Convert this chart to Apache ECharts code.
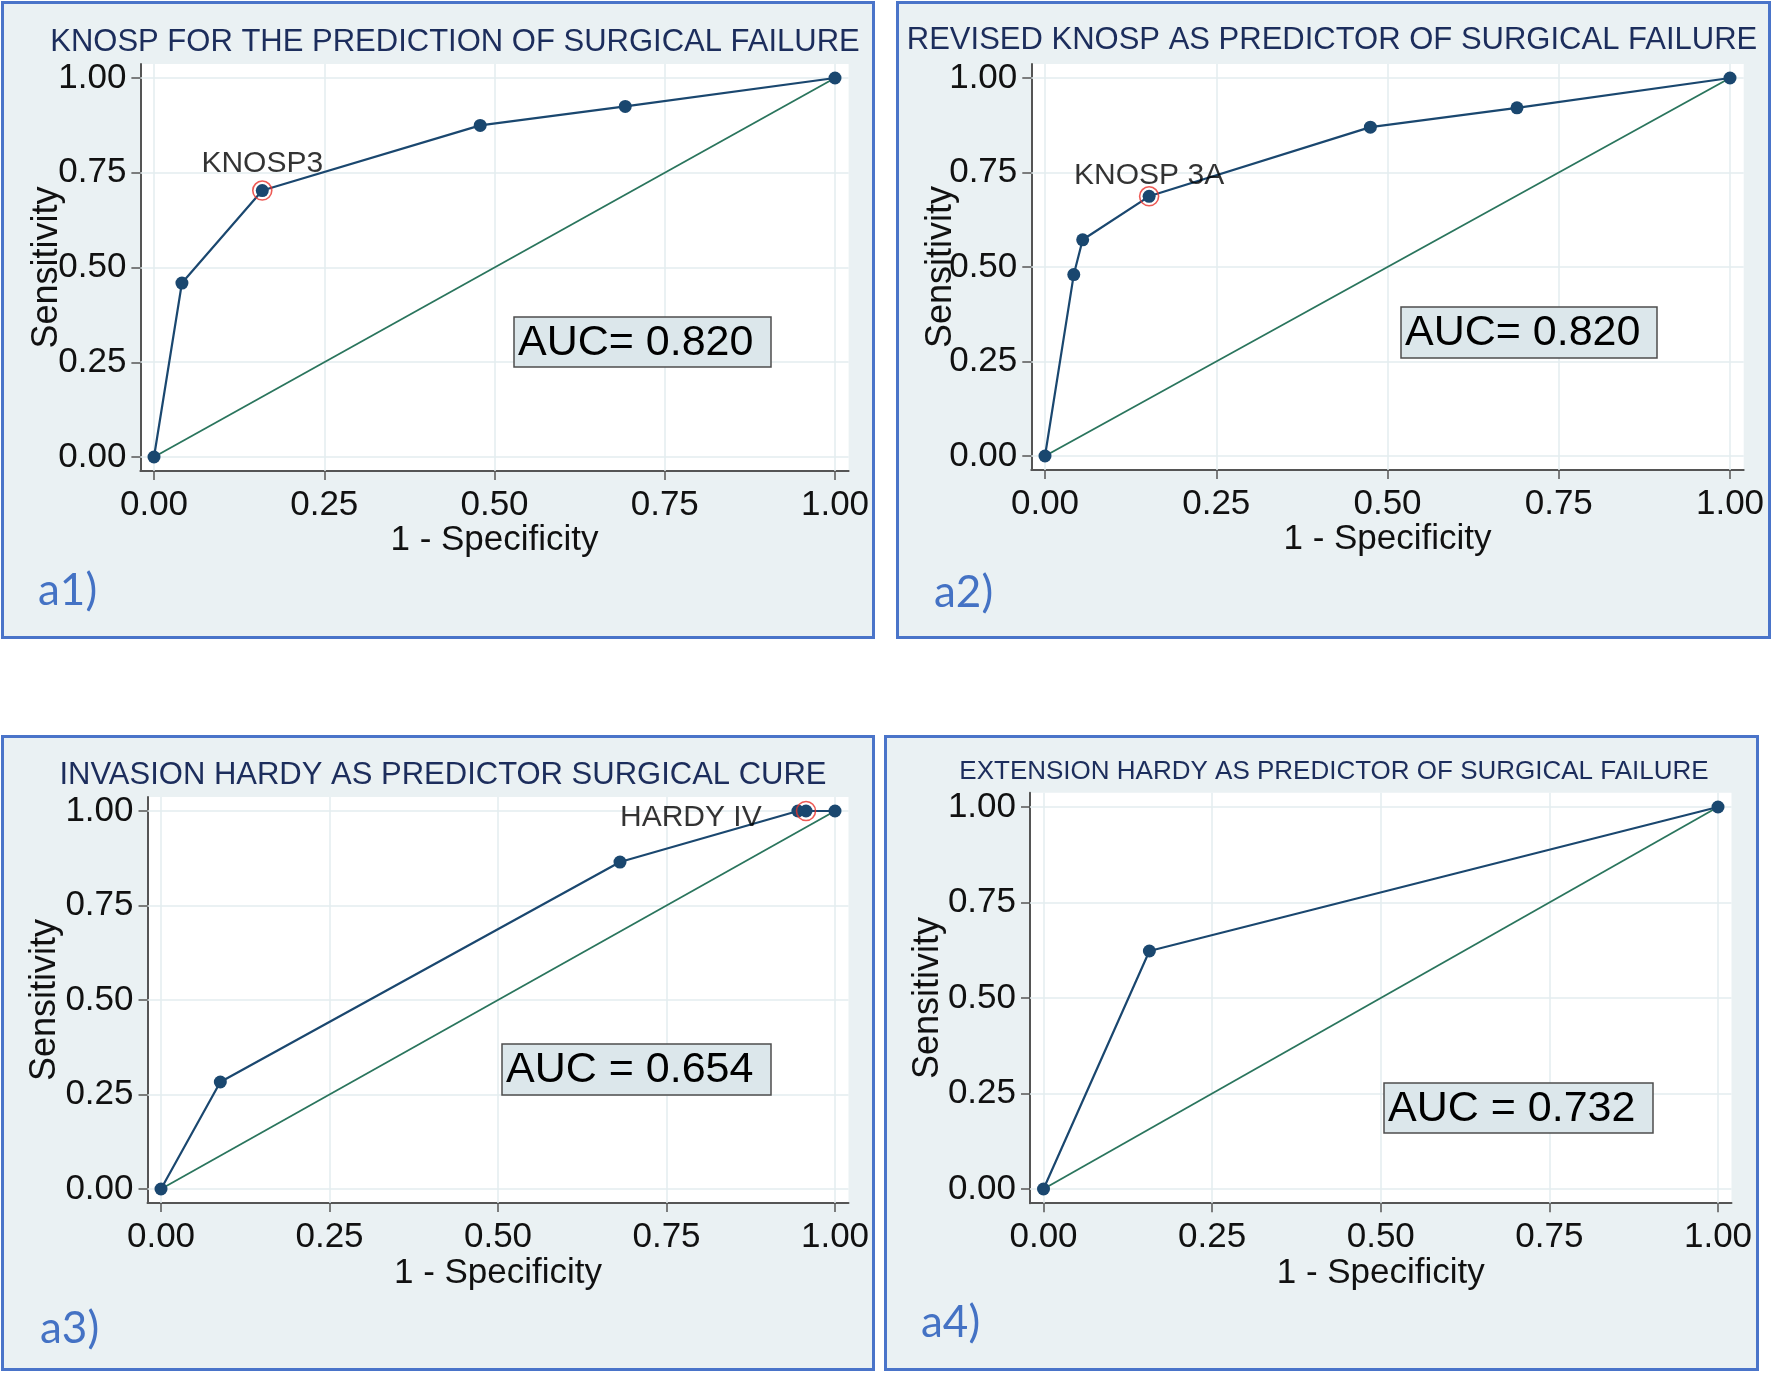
<!DOCTYPE html>
<html>
<head>
<meta charset="utf-8">
<script src="https://cdn.jsdelivr.net/npm/echarts@6/dist/echarts.min.js"></script>
<style>
  html, body { margin: 0; padding: 0; background: #fff; }
  #wrap { position: relative; width: 1772px; height: 1374px; }
  .frame { position: absolute; box-sizing: border-box; border: 3px solid #4a74c9; background: #eaf1f3; }
  #chart { position: absolute; left: 0; top: 0; width: 1772px; height: 1374px; }
</style>
</head>
<body>
<div id="wrap">
  <div class="frame" style="left:1px;top:1px;width:874px;height:638px"></div>
  <div class="frame" style="left:896px;top:1px;width:875px;height:638px"></div>
  <div class="frame" style="left:1px;top:735px;width:874px;height:636px"></div>
  <div class="frame" style="left:884px;top:735px;width:875px;height:636px"></div>
  <div id="chart"></div>
</div>
<script>
// tick values shared by every panel
const xTicks = [0, 0.25, 0.5, 0.75, 1];
const yTicks = [0, 0.25, 0.5, 0.75, 1];

// reference (chance) line
const refFpr = [0, 1];
const refSens = [0, 1];

// ROC points: 1 - specificity / sensitivity
const a1Fpr = [0, 0.041, 0.159, 0.479, 0.692, 1];
const a1Sens = [0, 0.459, 0.703, 0.875, 0.925, 1];
const a2Fpr = [0, 0.042, 0.055, 0.152, 0.475, 0.689, 1];
const a2Sens = [0, 0.480, 0.572, 0.687, 0.870, 0.921, 1];
const a3Fpr = [0, 0.088, 0.681, 0.945, 0.957, 1];
const a3Sens = [0, 0.283, 0.865, 1, 1, 1];
const a4Fpr = [0, 0.157, 1];
const a4Sens = [0, 0.623, 1];

const titles = [
  'KNOSP FOR THE PREDICTION OF SURGICAL FAILURE',
  'REVISED KNOSP AS PREDICTOR OF SURGICAL FAILURE',
  'INVASION HARDY AS PREDICTOR SURGICAL CURE',
  'EXTENSION HARDY AS PREDICTOR OF SURGICAL FAILURE'
];
const aucLabels = ['AUC= 0.820', 'AUC= 0.820', 'AUC = 0.654', 'AUC = 0.732'];
const panelTags = ['a1)', 'a2)', 'a3)', 'a4)'];
const cutLabels = ['KNOSP3', 'KNOSP 3A', 'HARDY IV', null];
const cutIndex = [2, 3, 4, -1];

const fprs = [a1Fpr, a2Fpr, a3Fpr, a4Fpr];
const senss = [a1Sens, a2Sens, a3Sens, a4Sens];

// axis ranges (Stata leaves a little room round 0..1)
const X_MIN = -0.02, X_MAX = 1.02, Y_MIN = -0.037, Y_MAX = 1.037;

// pixel layout of each panel: where 0 and 1 sit on each axis, plus text placement
const layout = [
  { x0: 154, x1: 835, y1: 78, y0: 457, titleX: 455, titleY: 42, titleSize: 31, yGap: 75, xGap: 52,
    box: [514, 317, 257, 50], tag: [38, 591], lPos: 'top', lDist: 2, lOff: [0, 0] },
  { x0: 1045, x1: 1730, y1: 78, y0: 456, titleX: 1332, titleY: 40, titleSize: 31, yGap: 72, xGap: 52,
    box: [1401, 307, 256, 51], tag: [934, 593], lPos: 'top', lDist: -5, lOff: [0, 0] },
  { x0: 161, x1: 835, y1: 811, y0: 1189, titleX: 443, titleY: 775, titleSize: 31, yGap: 84, xGap: 53,
    box: [502, 1044, 269, 51], tag: [40, 1329], lPos: 'left', lDist: 34, lOff: [0, 7] },
  { x0: 1043.5, x1: 1718, y1: 807, y0: 1189, titleX: 1334, titleY: 772, titleSize: 26, yGap: 84, xGap: 53,
    box: [1384, 1083, 269, 50], tag: [921, 1323], lPos: 'top', lDist: 3, lOff: [0, 0] }
];

const FONT = '"Liberation Sans", Arial, sans-serif';
const NAVY = '#1a476f';
const GREEN = '#2a755d';
const AXIS = '#555555';
const AXIS_FS = 35;
const fmt = v => Number(v).toFixed(2);

const grids = [], xAxes = [], yAxes = [], series = [], graphics = [];

layout.forEach((L, i) => {
  const w = L.x1 - L.x0, h = L.y0 - L.y1;
  grids.push({
    left: L.x0 + X_MIN * w,
    top: L.y1 - (Y_MAX - 1) * h,
    width: (X_MAX - X_MIN) * w,
    height: (Y_MAX - Y_MIN) * h,
    show: true, backgroundColor: '#ffffff', borderWidth: 0,
    containLabel: false, outerBoundsMode: 'none'
  });
  xAxes.push({
    type: 'value', gridIndex: i, min: X_MIN, max: X_MAX,
    name: '1 - Specificity', nameLocation: 'middle', nameGap: L.xGap, nameMoveOverlap: false,
    nameTextStyle: { fontSize: AXIS_FS, color: '#111', fontFamily: FONT },
    axisLine: { show: true, onZero: false, lineStyle: { color: AXIS, width: 2 } },
    axisTick: { show: true, length: 9, customValues: xTicks, lineStyle: { color: AXIS, width: 1.5 } },
    axisLabel: { customValues: xTicks, formatter: fmt, fontSize: AXIS_FS, color: '#111', fontFamily: FONT, margin: 17 },
    splitLine: { show: false }
  });
  yAxes.push({
    type: 'value', gridIndex: i, min: Y_MIN, max: Y_MAX,
    name: 'Sensitivity', nameLocation: 'middle', nameGap: L.yGap, nameMoveOverlap: false,
    nameTextStyle: { fontSize: 36, color: '#111', fontFamily: FONT },
    axisLine: { show: true, onZero: false, lineStyle: { color: AXIS, width: 2 } },
    axisTick: { show: true, length: 9, customValues: yTicks, lineStyle: { color: AXIS, width: 1.5 } },
    axisLabel: { customValues: yTicks, formatter: fmt, fontSize: AXIS_FS, color: '#111', fontFamily: FONT, margin: 14 },
    splitLine: { show: false }
  });

  // light grid lines at every tick, kept under the curves
  series.push({
    type: 'line', xAxisIndex: i, yAxisIndex: i, data: [], z: 1,
    markLine: {
      z: 1, silent: true, symbol: 'none', label: { show: false },
      lineStyle: { color: '#e3ecef', width: 1.5, type: 'solid' },
      data: xTicks.map(v => ({ xAxis: v })).concat(yTicks.map(v => ({ yAxis: v })))
    }
  });
  // chance line
  series.push({
    type: 'line', xAxisIndex: i, yAxisIndex: i, z: 2,
    data: refFpr.map((x, k) => [x, refSens[k]]),
    symbol: 'none', lineStyle: { color: GREEN, width: 1.8 }
  });
  // ROC curve
  const fpr = fprs[i], sens = senss[i];
  series.push({
    type: 'line', xAxisIndex: i, yAxisIndex: i, z: 3,
    data: fpr.map((x, k) => [x, sens[k]]),
    symbol: 'circle', symbolSize: 13,
    itemStyle: { color: NAVY },
    lineStyle: { color: NAVY, width: 2.2 }
  });
  // highlighted cut point
  if (cutIndex[i] >= 0) {
    const k = cutIndex[i];
    series.push({
      type: 'scatter', xAxisIndex: i, yAxisIndex: i, z: 4,
      data: [[fpr[k], sens[k]]],
      symbol: 'circle', symbolSize: 19,
      itemStyle: { color: 'rgba(0,0,0,0)', borderColor: '#e8312b', borderWidth: 1.6 },
      label: {
        show: true, formatter: cutLabels[i], position: L.lPos, distance: L.lDist, offset: L.lOff,
        fontSize: 30, color: '#000', fontFamily: FONT, textBorderWidth: 0, textShadowBlur: 0
      }
    });
  }

  graphics.push({
    type: 'text', x: L.titleX, y: L.titleY, z: 100,
    style: { text: titles[i], fill: '#1c2d5c', font: L.titleSize + 'px ' + FONT,
             textAlign: 'center', textVerticalAlign: 'middle' }
  });
  graphics.push({
    type: 'rect', z: 100,
    shape: { x: L.box[0], y: L.box[1], width: L.box[2], height: L.box[3] },
    style: { fill: '#dce7eb', stroke: '#4d4d4d', lineWidth: 1.5 }
  });
  graphics.push({
    type: 'text', x: L.box[0] + 4, y: L.box[1] + L.box[3] / 2 + 1, z: 101,
    style: { text: aucLabels[i], fill: '#000', font: '43px ' + FONT,
             textAlign: 'left', textVerticalAlign: 'middle' }
  });
  graphics.push({
    type: 'text', x: L.tag[0], y: L.tag[1], z: 100,
    style: { text: panelTags[i], fill: '#4472c4', font: '44px Lato, "Open Sans", sans-serif',
             textAlign: 'left', textVerticalAlign: 'middle' }
  });
});

const chart = echarts.init(document.getElementById('chart'), null, { renderer: 'canvas' });
chart.setOption({
  animation: false,
  backgroundColor: 'transparent',
  grid: grids,
  xAxis: xAxes,
  yAxis: yAxes,
  series: series,
  graphic: { elements: graphics }
});
</script>
</body>
</html>
